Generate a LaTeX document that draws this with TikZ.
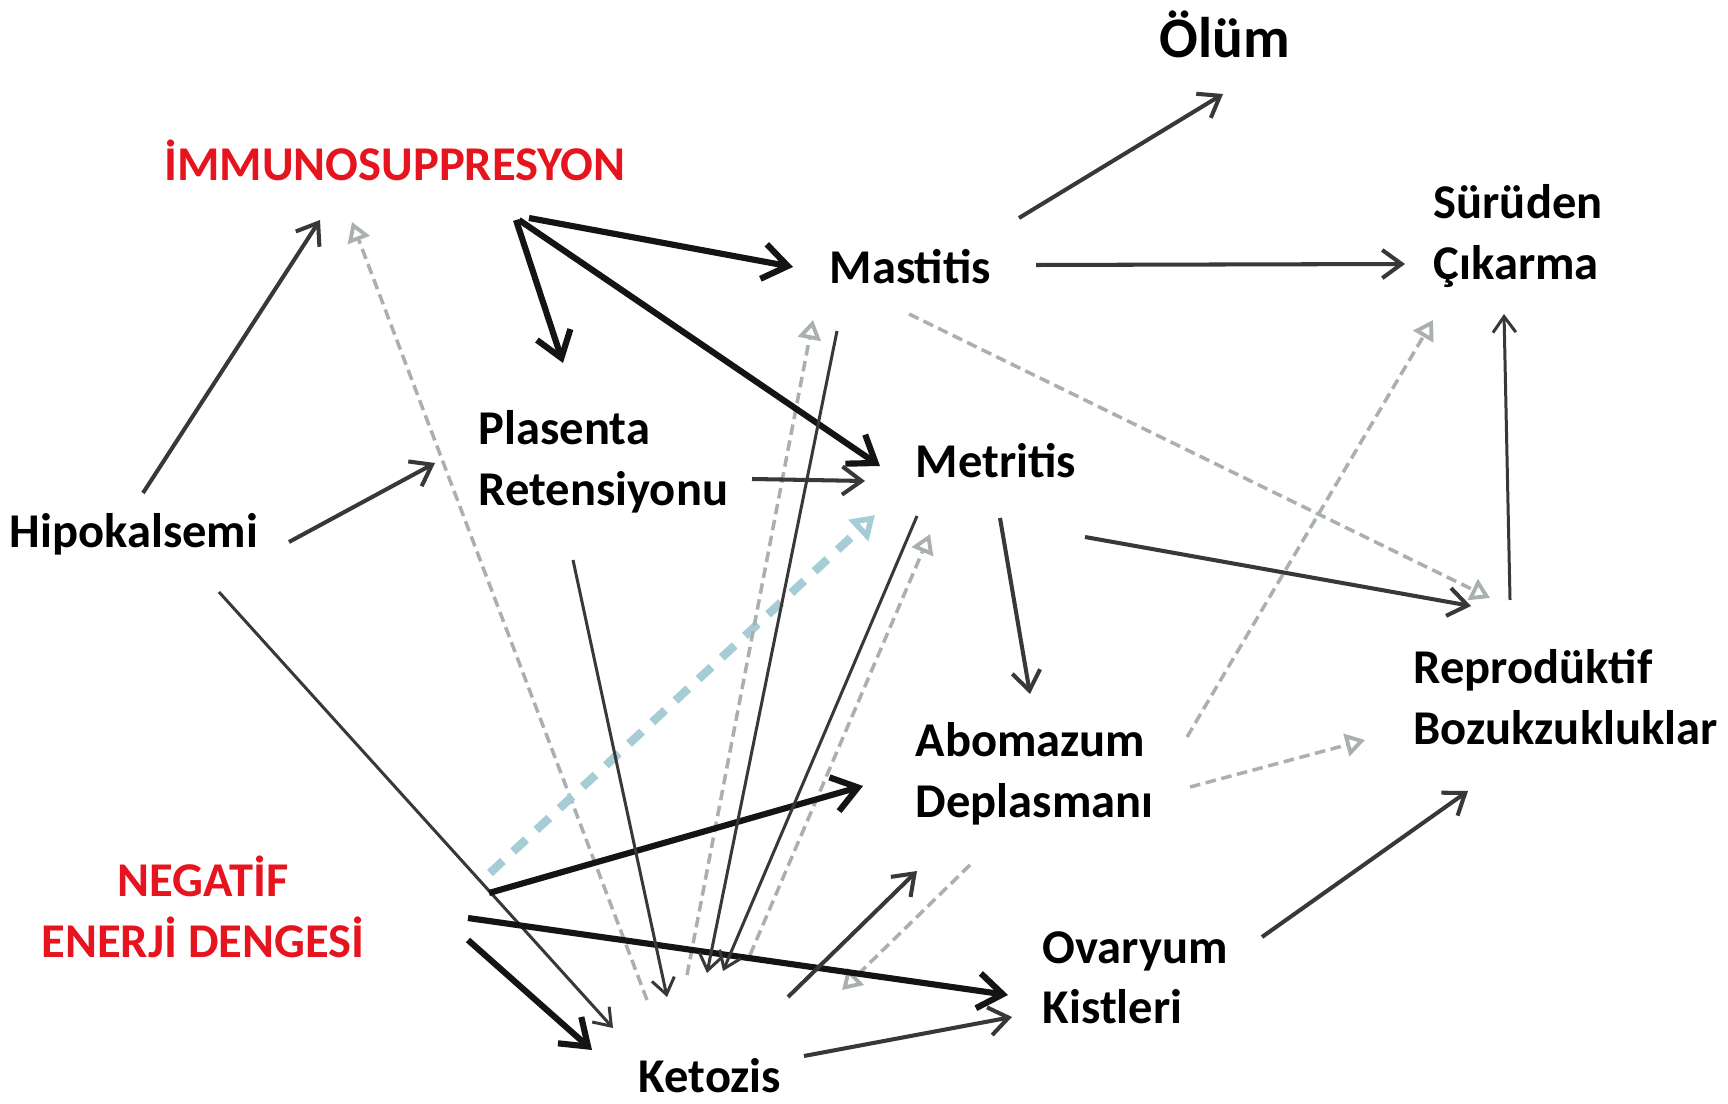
\documentclass[tikz,border=0pt]{standalone}
\usepackage{fontspec}
\setmainfont{Carlito}
\usetikzlibrary{arrows.meta}
\definecolor{redc}{RGB}{230,20,30}
\definecolor{dgrey}{RGB}{170,176,176}
\definecolor{dblue}{RGB}{166,204,214}
\begin{document}
\begin{tikzpicture}[x=0.01cm,y=-0.01cm,
  lbl/.style={font=\bfseries\fontsize{13.8}{17.2}\selectfont, inner sep=0pt, align=left, text=black},
  redlbl/.style={lbl, text=redc, align=center},
  arrThick/.style={line width=1.75pt, draw=black!92, -{Straight Barb[length=7pt,width=10pt]}},
  arrMed/.style={line width=1.15pt, draw=black!78, -{Straight Barb[length=5.5pt,width=8pt]}},
  arrThin/.style={line width=0.85pt, draw=black!78, -{Straight Barb[length=4.5pt,width=6.5pt]}},
  dashGrey/.style={line width=1pt, draw=dgrey, dash pattern=on 3pt off 1.6pt, -{Triangle[open,length=5.5pt,width=6.5pt,line width=1.1pt]}},
  dashBlue/.style={line width=2.4pt, draw=dblue, dash pattern=on 5pt off 4pt, -{Triangle[open,length=6.5pt,width=8pt,line width=1.6pt]}}
]
\useasboundingbox[fill=white] (0,0) rectangle (1728,1104);

% nodes
\node[lbl, font=\bfseries\fontsize{16.3}{19}\selectfont] (olum) at (1225,34) {Ölüm};
\node[redlbl] (imm) at (395,160) {İMMUNOSUPPRESYON};
\node[lbl, anchor=west] (mast) at (829,267) {Mastitis};
\node[lbl, anchor=west] (sur) at (1433,236) {Sürüden\\Çıkarma};
\node[lbl, anchor=west] (plas) at (478,462) {Plasenta\\Retensiyonu};
\node[lbl, anchor=west] (metr) at (915,461) {Metritis};
\node[lbl, anchor=west] (hipo) at (9,534) {Hipokalsemi};
\node[lbl, anchor=west] (abo) at (915,774) {Abomazum\\Deplasmanı};
\node[lbl, anchor=west] (rep) at (1413,697) {Reprodüktif\\Bozukzukluklar};
\node[redlbl] (neb) at (203,907) {NEGATİF\\ENERJİ DENGESİ};
\node[lbl, anchor=west] (ova) at (1042,978) {Ovaryum\\Kistleri};
\node[lbl] (ket) at (710,1076) {Ketozis};

% dashed connectors (behind)
\draw[dashGrey] ([shift={(-63,-76)}]ket.center) -- ([shift={(-43,62)}]imm.center);
\draw[dashBlue] ([shift={(287,-34)}]neb.center) -- ([shift={(-40,54)}]metr.west);
\draw[dashGrey] ([shift={(-23,-101)}]ket.center) -- ([shift={(-16,53)}]mast.west);
\draw[dashGrey] ([shift={(40,-121)}]ket.center) -- ([shift={(15,73)}]metr.west);
\draw[dashGrey] ([shift={(80,47)}]mast.west) -- ([shift={(77,-99)}]rep.west);
\draw[dashGrey] ([shift={(272,-37)}]abo.west) -- ([shift={(0,84)}]sur.west);
\draw[dashGrey] ([shift={(275,13)}]abo.west) -- ([shift={(-48,43)}]rep.west);
\draw[dashGrey] ([shift={(55,91)}]abo.west) -- ([shift={(132,-86)}]ket.center);

% solid connectors
\draw[arrMed] ([shift={(134,-41)}]hipo.west) -- ([shift={(-75,60)}]imm.center);
\draw[arrMed] ([shift={(280,8)}]hipo.west) -- ([shift={(-43,1)}]plas.west);
\draw[arrThin] ([shift={(210,58)}]hipo.west) -- ([shift={(-97,-48)}]ket.center);
\draw[arrThick] ([shift={(265,33)}]neb.center) -- ([shift={(-118,-26)}]ket.center);
\draw[arrThick] ([shift={(286,-14)}]neb.center) -- ([shift={(-52,12)}]abo.west);
\draw[arrThick] ([shift={(265,11)}]neb.center) -- ([shift={(-34,17)}]ova.west);
\draw[arrThin] ([shift={(95,98)}]plas.west) -- ([shift={(-43,-79)}]ket.center);
\draw[arrThick] ([shift={(134,58)}]imm.center) -- ([shift={(-36,0)}]mast.west);
\draw[arrThick] ([shift={(121,60)}]imm.center) -- ([shift={(85,-99)}]plas.west);
\draw[arrThick] ([shift={(124,60)}]imm.center) -- ([shift={(-35,5)}]metr.west);
\draw[arrMed] ([shift={(274,17)}]plas.west) -- ([shift={(-50,20)}]metr.west);
\draw[arrMed] ([shift={(190,-49)}]mast.west) -- ([shift={(-2,60)}]olum.center);
\draw[arrMed] ([shift={(207,-2)}]mast.west) -- ([shift={(-28,28)}]sur.west);
\draw[arrMed] ([shift={(170,76)}]metr.west) -- ([shift={(58,-91)}]rep.west);
\draw[arrMed] ([shift={(85,57)}]metr.west) -- ([shift={(115,-80)}]abo.west);
\draw[arrThin] ([shift={(97,-97)}]rep.west) -- ([shift={(71,78)}]sur.west);
\draw[arrMed] ([shift={(220,-41)}]ova.west) -- ([shift={(55,94)}]rep.west);
\draw[arrMed] ([shift={(94,-20)}]ket.center) -- ([shift={(-30,39)}]ova.west);
\draw[arrMed] ([shift={(78,-79)}]ket.center) -- ([shift={(2,97)}]abo.west);
\draw[arrThin] ([shift={(8,64)}]mast.west) -- ([shift={(-3,-103)}]ket.center);
\draw[arrThin] ([shift={(2,55)}]metr.west) -- ([shift={(13,-105)}]ket.center);
\end{tikzpicture}
\end{document}
